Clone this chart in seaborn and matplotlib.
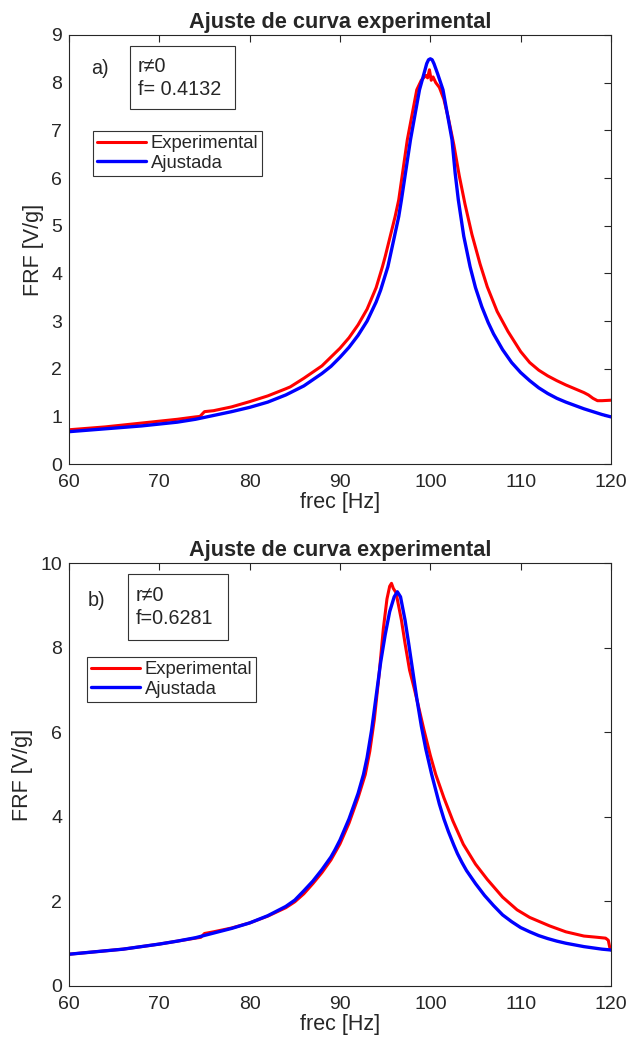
import pandas as pd
import matplotlib.pyplot as plt
import seaborn as sns
from matplotlib.patches import Rectangle

# ---- a) values ----
freq_a_exp = [60, 62, 64, 66, 68, 70, 72, 74, 74.5, 75, 76, 78, 80, 82, 84, 84.5, 85, 86, 88,
              90, 91, 92, 93, 94, 94.7, 95, 96.1, 96.5, 97.45, 98.5, 99.0, 99.5, 99.7, 99.9,
              100.1, 100.3, 100.6, 101.0, 101.5, 102.0, 102.6, 103.2, 103.84, 104.6, 105.5,
              106.3, 107.4, 108.6, 110, 111, 112, 113, 114, 115, 116, 117, 117.5, 118, 118.5,
              119, 120]
frf_a_exp = [0.72, 0.75, 0.78, 0.82, 0.86, 0.90, 0.94, 0.99, 1.00, 1.10, 1.12, 1.20, 1.31, 1.43,
             1.58, 1.62, 1.68, 1.80, 2.06, 2.43, 2.65, 2.92, 3.25, 3.70, 4.14, 4.35, 5.19, 5.54,
             6.80, 7.85, 8.05, 8.15, 8.10, 8.27, 8.05, 8.12, 8.00, 7.90, 7.65, 7.25, 6.70, 6.05,
             5.45, 4.82, 4.20, 3.72, 3.20, 2.78, 2.36, 2.13, 1.97, 1.85, 1.75, 1.66, 1.58, 1.50,
             1.45, 1.38, 1.33, 1.33, 1.34]

freq_a_fit = [60, 62, 64, 66, 68, 70, 72, 74, 76, 78, 80, 82, 84, 86, 88, 89, 90, 91, 92, 93,
              94, 94.5, 95.3, 96, 96.5, 96.8, 97.8, 98.8, 99.3, 99.6, 99.8, 100, 100.2, 100.4,
              100.8, 101.4, 102.4, 102.75, 103.1, 103.7, 104.4, 105.0, 105.7, 106.4, 107, 108,
              109, 110, 111, 112, 113, 114, 115, 116, 117, 118, 119, 120]
frf_a_fit = [0.68, 0.71, 0.74, 0.77, 0.80, 0.84, 0.88, 0.94, 1.02, 1.10, 1.19, 1.30, 1.45, 1.64,
             1.90, 2.05, 2.24, 2.45, 2.70, 3.00, 3.40, 3.65, 4.14, 4.75, 5.19, 5.54, 6.80, 7.85,
             8.19, 8.40, 8.48, 8.50, 8.48, 8.40, 8.19, 7.85, 6.80, 6.10, 5.54, 4.78, 4.14, 3.70,
             3.30, 2.97, 2.73, 2.40, 2.13, 1.92, 1.75, 1.60, 1.48, 1.38, 1.30, 1.23, 1.16, 1.10,
             1.04, 0.99]

# ---- b) values ----
freq_b_exp = [60, 62, 64, 66, 68, 70, 72, 74, 74.6, 75, 76, 78, 80, 82, 84, 85, 86, 87, 88, 89,
              90, 91, 92, 92.8, 93.3, 93.8, 94.3, 94.8, 95.2, 95.5, 95.7, 95.9, 96.2, 96.8,
              97.2, 97.7, 98.2, 98.7, 99.3, 100.0, 100.6, 101.5, 102.5, 103.65, 105, 106.3, 108,
              109.6, 111, 113.2, 115, 117, 118.5, 119.4, 119.7, 119.85, 120]
frf_b_exp = [0.75, 0.79, 0.83, 0.87, 0.93, 0.99, 1.06, 1.13, 1.15, 1.24, 1.28, 1.37, 1.49, 1.65,
             1.85, 1.99, 2.18, 2.42, 2.68, 2.98, 3.36, 3.85, 4.45, 5.00, 5.55, 6.30, 7.30, 8.45,
             9.15, 9.45, 9.52, 9.40, 9.30, 8.65, 8.10, 7.47, 7.05, 6.60, 6.05, 5.45, 5.00, 4.45,
             3.90, 3.35, 2.88, 2.52, 2.10, 1.80, 1.62, 1.42, 1.28, 1.18, 1.15, 1.13, 1.08, 0.92,
             0.85]

freq_b_fit = [60, 62, 64, 66, 68, 70, 72, 74, 76, 78, 80, 82, 84, 85, 86, 87, 88, 89, 89.45, 90,
              91, 92, 92.6, 93.0, 93.5, 94.0, 94.5, 95.0, 95.5, 96.0, 96.35, 96.7, 97.2, 97.6,
              98.05, 98.5, 99.0, 99.5, 100.15, 101, 101.5, 102, 102.6, 103, 103.5, 104, 105, 106,
              107, 108, 109, 110, 111, 112, 113, 114, 115, 116, 117, 118, 119, 120]
frf_b_fit = [0.75, 0.79, 0.83, 0.87, 0.93, 0.99, 1.06, 1.14, 1.25, 1.36, 1.49, 1.66, 1.88, 2.03,
             2.25, 2.48, 2.75, 3.05, 3.22, 3.45, 3.95, 4.55, 5.00, 5.40, 6.05, 6.85, 7.65, 8.30,
             8.85, 9.20, 9.32, 9.20, 8.65, 8.10, 7.45, 6.80, 6.15, 5.60, 5.00, 4.30, 3.95, 3.65,
             3.33, 3.13, 2.92, 2.73, 2.42, 2.14, 1.90, 1.68, 1.52, 1.38, 1.28, 1.19, 1.12, 1.06,
             1.01, 0.97, 0.93, 0.90, 0.87, 0.85]

sns.set_style("white")
plt.rcParams['font.family'] = ['Liberation Sans', 'DejaVu Sans']
plt.rcParams['font.size'] = 14

fig = plt.figure(figsize=(6.27, 10.5), dpi=100)
ax_a = fig.add_axes([0.110, 0.558, 0.8645, 0.4087])
ax_b = fig.add_axes([0.110, 0.061, 0.8645, 0.4028])

panels = [
    (ax_a, freq_a_exp, frf_a_exp, freq_a_fit, frf_a_fit, 9, range(0, 10), "a)", "f= 0.4132",
     (0.1125, 0.8275, 0.1937, 0.1469), (0.1273, 0.9254, 0.872), (0.040, 0.923), (0.0443, 0.776)),
    (ax_b, freq_b_exp, frf_b_exp, freq_b_fit, frf_b_fit, 10, range(0, 11, 2), "b)", "f=0.6281",
     (0.1089, 0.818, 0.1845, 0.156), (0.1236, 0.924, 0.868), (0.035, 0.9125), (0.0332, 0.778)),
]

for ax, fx, fy, gx, gy, ymax, yt, tag, ftxt, rect, tpos, tagpos, legpos in panels:
    df_exp = pd.DataFrame({'frec': fx, 'FRF': fy})
    df_fit = pd.DataFrame({'frec': gx, 'FRF': gy})
    sns.lineplot(data=df_exp, x='frec', y='FRF', ax=ax, color='#ff0000', lw=2.2,
                 label='Experimental', sort=False, estimator=None)
    sns.lineplot(data=df_fit, x='frec', y='FRF', ax=ax, color='#0000ff', lw=2.4,
                 label='Ajustada', sort=False, estimator=None)

    ax.set_xlim(60, 120)
    ax.set_ylim(0, ymax)
    ax.set_xticks(range(60, 121, 10))
    ax.set_yticks(list(yt))
    ax.tick_params(direction='in', length=5, width=0.8, top=True, right=True,
                   labelsize=14, colors='#262626')
    ax.tick_params(axis='x', pad=7)
    ax.tick_params(axis='y', pad=5)
    for s in ax.spines.values():
        s.set_visible(True)
        s.set_color('#262626')
        s.set_linewidth(0.8)

    ax.set_title('Ajuste de curva experimental', fontsize=15.7, fontweight='bold', pad=5)
    ax.set_xlabel('frec [Hz]', fontsize=15.5, color='#262626', labelpad=1)
    ax.set_ylabel('FRF [V/g]', fontsize=15.5, color='#262626', labelpad=5)

    # annotation box
    ax.add_patch(Rectangle((rect[0], rect[1]), rect[2], rect[3], transform=ax.transAxes,
                           fill=True, fc='white', ec='#333333', lw=0.8, zorder=5))
    ax.text(tpos[0], tpos[1], 'r\u22600', transform=ax.transAxes, va='center', ha='left',
            fontsize=14.2, zorder=6)
    ax.text(tpos[0], tpos[2], ftxt, transform=ax.transAxes, va='center', ha='left',
            fontsize=14.2, zorder=6)
    ax.text(tagpos[0], tagpos[1], tag, transform=ax.transAxes, va='center', ha='left',
            fontsize=14.2)

    leg = ax.legend(loc='upper left', bbox_to_anchor=legpos, borderaxespad=0, frameon=True,
                    fancybox=False, framealpha=1, edgecolor='#333333', fontsize=13.3,
                    handlelength=2.65, handletextpad=0.25, borderpad=0.22, labelspacing=0.14)
    leg.get_frame().set_linewidth(0.8)

fig.savefig('out.png', dpi=100)
